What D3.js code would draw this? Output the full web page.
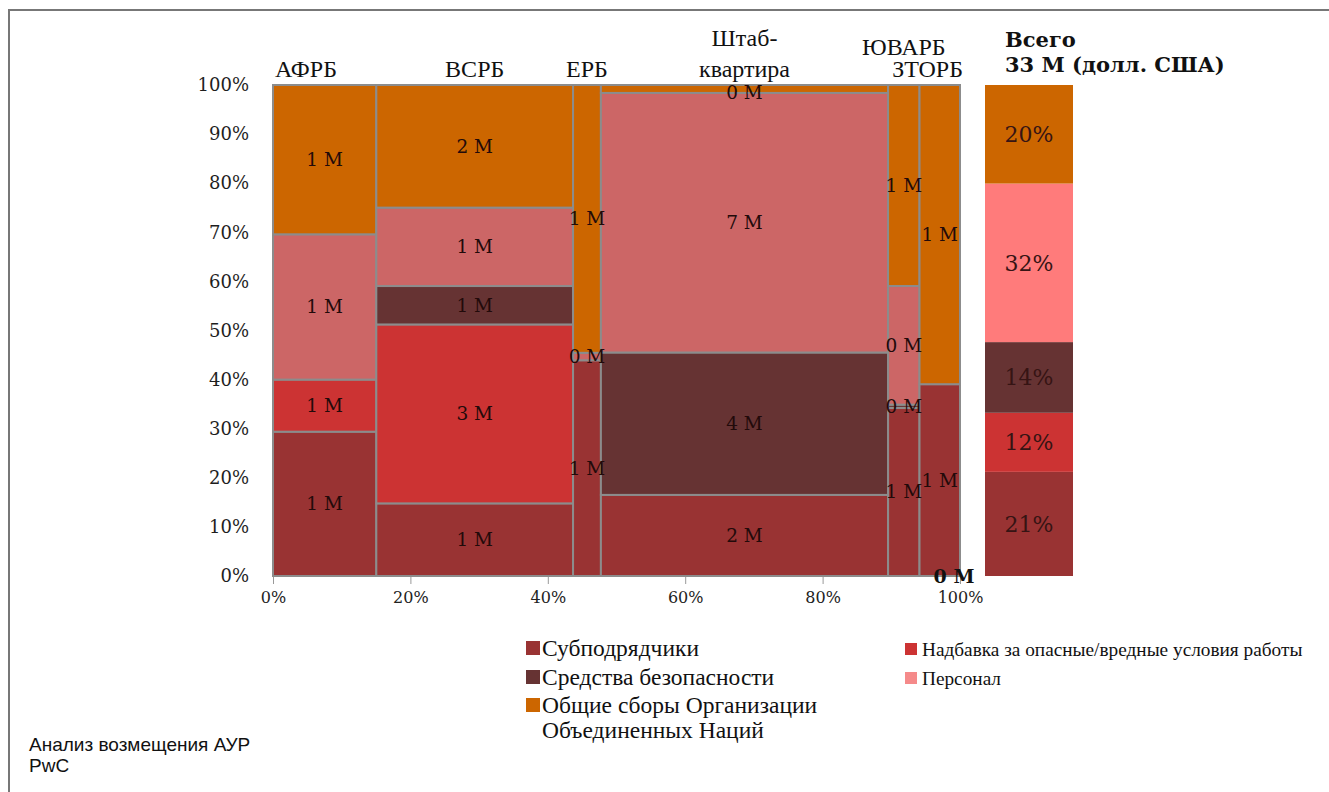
<!DOCTYPE html>
<html lang="ru">
<head>
<meta charset="utf-8">
<title>Анализ возмещения АУР</title>
<script src="https://cdn.jsdelivr.net/npm/d3@7"></script>
<style>
  html, body { margin: 0; padding: 0; background: #fff; }
  svg { display: block; }
</style>
</head>
<body>
<svg id="chart" width="1329" height="792"></svg>
<script>
// Регионы (столбцы мозаики); "\n" разбивает подпись на строки
const regions = ["АФРБ", "ВСРБ", "ЕРБ", "Штаб-\nквартира", "ЮВАРБ", "ЗТОРБ"];

// Статьи расходов, снизу вверх
const categories = [
  "Субподрядчики",
  "Надбавка за опасные/вредные условия работы",
  "Средства безопасности",
  "Персонал",
  "Общие сборы Организации\nОбъединенных Наций"
];

// Суммы по регионам, млн долл. США
const subcontractors = [1.44, 1.38, 0.58, 2.25, 0.51, 0.75];
const hazardPay      = [0.52, 3.40, 0.00, 0.00, 0.00, 0.00];
const security       = [0.00, 0.73, 0.00, 3.95, 0.01, 0.00];
const personnel      = [1.45, 1.49, 0.02, 7.20, 0.36, 0.00];
const unFees         = [1.49, 2.33, 0.72, 0.22, 0.61, 1.17];
const unallocated    = 0;

const yTicks = [0, 0.1, 0.2, 0.3, 0.4, 0.5, 0.6, 0.7, 0.8, 0.9, 1];
const xTicks = [0, 0.2, 0.4, 0.6, 0.8, 1];

const series = [subcontractors, hazardPay, security, personnel, unFees];
const mosaicColors = ["#993333", "#CC3333", "#663333", "#CC6666", "#CC6600"];
const totalColors  = ["#993333", "#CC3333", "#663333", "#FF7B7B", "#CC6600"];
const legendColors = ["#993333", "#CC3333", "#663333", "#F58A8A", "#CC6600"];

const serif = "'DejaVu Serif', Georgia, serif";
const bookSerif = "'Liberation Serif', 'Times New Roman', serif";

const svg = d3.select("#chart");

// Рамка
svg.append("path")
  .attr("d", "M9,792V10H1329")
  .attr("fill", "none")
  .attr("stroke", "#777")
  .attr("stroke-width", 2);

const x = d3.scaleLinear().domain([0, 1]).range([273, 960]);
const y = d3.scaleLinear().domain([0, 1]).range([576, 85]);

// Ширина столбца пропорциональна сумме по региону
const regionTotals = regions.map((_, i) => d3.sum(series, s => s[i]));
const grandTotal = d3.sum(regionTotals);
let acc = 0;
const cols = regions.map((name, i) => {
  const x0 = acc / grandTotal;
  acc += regionTotals[i];
  return { name, i, x0, x1: acc / grandTotal, total: regionTotals[i] };
});

// Ячейки
const cells = [];
cols.forEach(c => {
  let s = 0;
  series.forEach((arr, k) => {
    const v = arr[c.i];
    const y0 = s / c.total;
    s += v;
    cells.push({ col: c, k, v, y0, y1: s / c.total });
  });
});

// Оси
const yAxis = svg.append("g")
  .attr("transform", `translate(${x(0)},0)`)
  .call(d3.axisLeft(y).tickValues(yTicks).tickFormat(d3.format(".0%")).tickSize(0).tickPadding(24));
yAxis.select(".domain").remove();
yAxis.selectAll("text")
  .attr("font-family", serif).attr("font-size", 18).attr("fill", "#1e1e1e");

const xAxis = svg.append("g")
  .attr("transform", `translate(0,${y(0)})`)
  .call(d3.axisBottom(x).tickValues(xTicks).tickFormat(d3.format(".0%")).tickSize(8).tickPadding(8));
xAxis.select(".domain").attr("stroke", "#999");
xAxis.selectAll(".tick line").attr("stroke", "#999");
xAxis.selectAll("text")
  .attr("font-family", serif).attr("font-size", 16).attr("fill", "#222");

const g = svg.append("g");
g.selectAll("rect.cell")
  .data(cells)
  .join("rect")
  .attr("class", "cell")
  .attr("x", d => x(d.col.x0))
  .attr("width", d => x(d.col.x1) - x(d.col.x0))
  .attr("y", d => y(d.y1))
  .attr("height", d => y(d.y0) - y(d.y1))
  .attr("fill", d => mosaicColors[d.k])
  .attr("stroke", "#8c8c8c")
  .attr("stroke-width", d => (d.v > 0 ? 2 : 0));

const fmtM = v => `${Math.round(v)} M`;

// Подписи ячеек по центру; у самого верха подпись не выходит за область
g.selectAll("text.cell-label")
  .data(cells.filter(d => d.v > 0))
  .join("text")
  .attr("class", "cell-label")
  .attr("x", d => (x(d.col.x0) + x(d.col.x1)) / 2)
  .attr("y", d => Math.max(y((d.y0 + d.y1) / 2), y(1) + 8))
  .attr("dy", "0.35em")
  .attr("text-anchor", "middle")
  .attr("font-family", serif)
  .attr("font-size", 18.5)
  .attr("fill", "#220a0a")
  .text(d => fmtM(d.v));

// Нераспределённый остаток у правого края
svg.append("text")
  .attr("x", x(1) - 6)
  .attr("y", y(0))
  .attr("dy", "0.35em")
  .attr("text-anchor", "middle")
  .attr("font-family", serif)
  .attr("font-weight", "bold")
  .attr("font-size", 19)
  .attr("fill", "#111")
  .text(fmtM(unallocated));

// Подписи регионов: справа налево, при наложении поднимаются на ярус;
// подпись первого столбца прижата к левому краю области
const labelG = svg.append("g");
const baseLine = 77, lineGap = 31, tierLift = 22;
const placed = [];
cols.slice().reverse().forEach(c => {
  const lines = c.name.split("\n");
  const t = labelG.append("text")
    .attr("font-family", bookSerif)
    .attr("font-size", 24)
    .attr("fill", "#111")
    .attr("text-anchor", "middle");
  lines.forEach(l => t.append("tspan").text(l));
  const w = d3.max(t.selectAll("tspan").nodes(), n => n.getComputedTextLength());
  let cx = (x(c.x0) + x(c.x1)) / 2;
  if (c.i === 0) cx = x(0) + 2 + w / 2;
  cx = Math.min(cx, x(1) + 3 - w / 2);
  let tier = 0;
  while (placed.some(p => p.tier === tier && cx - w / 2 < p.r && cx + w / 2 > p.l)) tier++;
  placed.push({ l: cx - w / 2, r: cx + w / 2, tier });
  const bottom = baseLine - tier * tierLift;
  t.selectAll("tspan")
    .attr("x", cx)
    .attr("y", (_, j) => bottom - (lines.length - 1 - j) * lineGap);
});

// Итоговый столбец
const totals = categories.map((_, k) => d3.sum(series[k]));
const tx0 = 985, tx1 = 1073;
let ts = 0;
const totalSegs = totals.map((v, k) => {
  const y0 = ts / grandTotal;
  ts += v;
  return { k, v, y0, y1: ts / grandTotal };
});
svg.append("g").selectAll("rect")
  .data(totalSegs)
  .join("rect")
  .attr("x", tx0)
  .attr("width", tx1 - tx0)
  .attr("y", d => y(d.y1))
  .attr("height", d => y(d.y0) - y(d.y1))
  .attr("fill", d => totalColors[d.k]);
svg.append("g").selectAll("text")
  .data(totalSegs)
  .join("text")
  .attr("x", (tx0 + tx1) / 2)
  .attr("y", d => y((d.y0 + d.y1) / 2))
  .attr("dy", "0.35em")
  .attr("text-anchor", "middle")
  .attr("font-family", serif)
  .attr("font-size", 22)
  .attr("fill", "#361414")
  .text(d => d3.format(".0%")(d.v / grandTotal));

const head = svg.append("text")
  .attr("font-family", serif)
  .attr("font-weight", "bold")
  .attr("font-size", 21)
  .attr("fill", "#111");
head.append("tspan").attr("x", 1005).attr("y", 47).text("Всего");
head.append("tspan").attr("x", 1005).attr("y", 72).text(`${Math.round(grandTotal)} M (долл. США)`);

// Легенда: две колонки, заполняются по строкам
const legendCols = [
  { x: 526, size: 14, font: 23.5 },
  { x: 905, size: 12, font: 19.3 }
];
const rowBase = [656, 685, 713];
const legend = svg.append("g");
categories.forEach((name, k) => {
  const col = legendCols[k % 2];
  const base = rowBase[Math.floor(k / 2)];
  legend.append("rect")
    .attr("x", col.x)
    .attr("y", base - col.size - 1)
    .attr("width", col.size)
    .attr("height", col.size)
    .attr("fill", legendColors[k]);
  const t = legend.append("text")
    .attr("font-family", bookSerif)
    .attr("font-size", col.font)
    .attr("fill", "#111");
  name.split("\n").forEach((line, j) => {
    t.append("tspan")
      .attr("x", col.x + col.size + (k % 2 ? 5 : 2))
      .attr("y", base + j * 25)
      .text(line);
  });
});

// Источник
const src = svg.append("text")
  .attr("font-family", "'Liberation Sans', Arial, sans-serif")
  .attr("font-size", 19)
  .attr("fill", "#111");
src.append("tspan").attr("x", 29).attr("y", 751).text("Анализ возмещения АУР");
src.append("tspan").attr("x", 29).attr("y", 772).text("PwC");
</script>
</body>
</html>
